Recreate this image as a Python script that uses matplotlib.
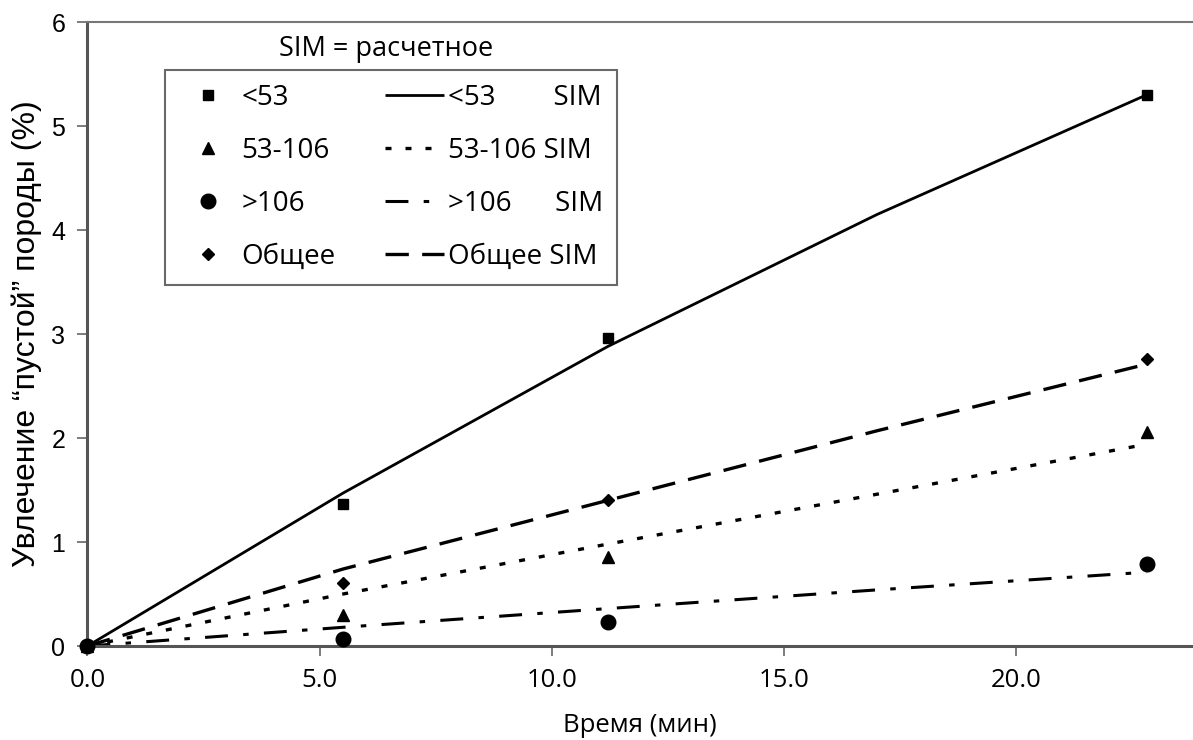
import matplotlib
matplotlib.use("Agg")
import matplotlib.pyplot as plt

# ---- data ----
t_obs = [0.0, 5.5, 11.2, 22.8]
obs_lt53 = [0.0, 1.37, 2.96, 5.30]
obs_53_106 = [0.0, 0.30, 0.86, 2.06]
obs_gt106 = [0.0, 0.07, 0.23, 0.79]
obs_total = [0.0, 0.61, 1.40, 2.76]

t_sim = [0.0, 5.5, 11.2, 17.0, 22.8]
sim_lt53 = [0.0, 1.47, 2.88, 4.15, 5.30]
sim_53_106 = [0.0, 0.50, 0.98, 1.46, 1.94]
sim_gt106 = [0.0, 0.18, 0.36, 0.54, 0.71]
sim_total = [0.0, 0.74, 1.40, 2.07, 2.71]

obs_labels = ["<53", "53-106", ">106", "Общее"]
sim_labels = ["<53        SIM", "53-106 SIM", ">106      SIM", "Общее SIM"]
x_ticks = [0.0, 5.0, 10.0, 15.0, 20.0]
y_ticks = [0, 1, 2, 3, 4, 5, 6]

fig = plt.figure(figsize=(11.93, 7.40), dpi=100)
ax = fig.add_axes([0.0733, 0.127, 0.9267, 0.8432])

ink = "black"
l1, = ax.plot(t_sim, sim_lt53, color=ink, lw=2.0, solid_capstyle="butt")
l2, = ax.plot(t_sim, sim_53_106, color=ink, lw=2.4, dashes=(1.8, 4.2))
l3, = ax.plot(t_sim, sim_gt106, color=ink, lw=2.2, dashes=(7.5, 5.0, 1.8, 5.0))
l4, = ax.plot(t_sim, sim_total, color=ink, lw=2.4, dashes=(7.0, 4.0))

m1, = ax.plot(t_obs, obs_lt53, ls="none", marker="s", ms=7.5, color=ink, clip_on=False, zorder=4)
m2, = ax.plot(t_obs, obs_53_106, ls="none", marker="^", ms=8.5, color=ink, clip_on=False, zorder=4)
m3, = ax.plot(t_obs, obs_gt106, ls="none", marker="o", ms=10.5, color=ink, clip_on=False, zorder=4)
m4, = ax.plot(t_obs, obs_total, ls="none", marker="D", ms=6.5, color=ink, clip_on=False, zorder=4)

ax.set_xlim(0, 23.8)
ax.set_ylim(0, 6)
ax.set_xticks(x_ticks)
ax.set_xticklabels([f"{v:.1f}" for v in x_ticks], fontsize=18.5, family="Open Sans")
ax.set_yticks(y_ticks)
ax.set_yticklabels([str(v) for v in y_ticks], fontsize=18, family="Liberation Sans")
ax.tick_params(axis="both", direction="out", length=7, width=1.2, color="#666666")
ax.tick_params(axis="x", pad=9)
ax.tick_params(axis="y", pad=9)

for s in ["left", "bottom"]:
    ax.spines[s].set_linewidth(2.2)
    ax.spines[s].set_color("#555555")
ax.spines["top"].set_linewidth(1.5)
ax.spines["top"].set_color("#777777")
ax.spines["right"].set_visible(False)

ax.set_xlabel("Время (мин)", fontsize=18.5, family="Open Sans", labelpad=14)
ax.set_ylabel("Увлечение \u201cпустой\u201d породы (%)", fontsize=23, family="Liberation Sans", labelpad=7)

handles = [m1, m2, m3, m4, l1, l2, l3, l4]
labels = obs_labels + sim_labels
leg = ax.legend(handles, labels, ncol=2, loc="upper left",
                bbox_to_anchor=(0.070, 0.923), prop={"family": "Open Sans", "size": 20},
                frameon=True, fancybox=False, edgecolor="#444444",
                handlelength=2.1, handletextpad=0.15, columnspacing=1.8,
                labelspacing=0.9, borderpad=0.5, borderaxespad=0)
leg.get_frame().set_linewidth(1.5)

ax.text(0.27, 0.957, "SIM = расчетное", transform=ax.transAxes, ha="center", va="center",
        fontsize=19.5, family="Open Sans")

fig.savefig("out.png", dpi=100)
